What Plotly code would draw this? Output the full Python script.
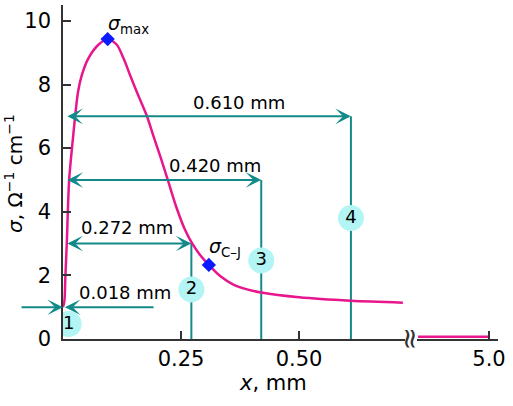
import plotly.graph_objects as go

# ---- data ----
curve_x = [0.000, 0.003, 0.005, 0.008, 0.013, 0.021, 0.026, 0.032, 0.040, 0.054, 0.075,
           0.0946, 0.114, 0.128, 0.142, 0.156, 0.177, 0.191, 0.207, 0.222, 0.240, 0.258,
           0.273, 0.290, 0.309, 0.333, 0.360, 0.390, 0.420, 0.500, 0.610, 0.720]
curve_y = [1.00, 1.20, 1.95, 3.00, 5.00, 6.30, 7.04, 7.78, 8.30, 8.83, 9.25,
           9.43, 9.25, 8.83, 8.30, 7.78, 7.04, 6.41, 5.70, 5.00, 4.15, 3.45,
           3.02, 2.65, 2.33, 1.98, 1.72, 1.56, 1.46, 1.31, 1.20, 1.14]
far_x = [4.0, 5.0]
far_y = [0.07, 0.07]

marker_x = [0.0946, 0.309]
marker_y = [9.43, 2.33]
marker_labels = ["<i>σ</i><sub>max</sub>", "<i>σ</i><sub>C–J</sub>"]

dist_values = [0.018, 0.272, 0.420, 0.610]
dist_labels = ["0.018 mm", "0.272 mm", "0.420 mm", "0.610 mm"]
arrow_y = [1, 3, 5, 7]
label_x = [0.131, 0.135, 0.322, 0.373]
label_y = [1.45, 3.52, 5.47, 7.42]

circle_labels = ["1", "2", "3", "4"]
circle_x = [0.012, 0.272, 0.420, 0.610]
circle_y = [0.47, 1.56, 2.47, 3.80]

y_ticks = [0, 2, 4, 6, 8, 10]
x_ticks = [0.25, 0.50]
x_ticktext = ["0.25", "0.50"]
x2_ticks = [4.0, 5.0]
x2_ticktext = ["", "5.0"]

# ---- style ----
FONT = "DejaVu Sans"
TEAL = "#138a8a"
PINK = "#e8168c"
CYAN = "#b3f4f4"
BLUE = "#0a1cff"
AXIS = "#333333"

L, R, T, B = 63, 15, 5, 67
W, H = 513, 406
PW, PH = W - L - R, H - T - B


def px2paper(px, py):
    return (px - L) / PW, (H - B - py) / PH


fig = go.Figure()

# vertical lines from axis to arrow level
vx, vy = [], []
for d, a in zip(dist_values[1:], arrow_y[1:]):
    vx += [d, d, None]
    vy += [0, a, None]
fig.add_trace(go.Scatter(x=vx, y=vy, mode="lines",
                         line=dict(color=TEAL, width=2), hoverinfo="skip"))

# main curve
fig.add_trace(go.Scatter(x=curve_x, y=curve_y, mode="lines",
                         line=dict(color=PINK, width=2.5, shape="spline", smoothing=0.8)))
fig.add_trace(go.Scatter(x=far_x, y=far_y, xaxis="x2", mode="lines",
                         line=dict(color=PINK, width=2.5)))

# numbered circles
fig.add_trace(go.Scatter(x=circle_x, y=circle_y, mode="markers+text",
                         text=circle_labels, textposition="middle center",
                         textfont=dict(family=FONT, size=18, color="black"),
                         marker=dict(size=26, color=CYAN, line=dict(width=0))))

# diamonds
fig.add_trace(go.Scatter(x=marker_x, y=marker_y, mode="markers",
                         marker=dict(symbol="diamond", size=11, color=BLUE)))

ann = []
# horizontal double arrows
for d, a in zip(dist_values[1:], arrow_y[1:]):
    ann.append(dict(x=d, y=a, ax=0.006, ay=a, xref="x", yref="y", axref="x", ayref="y",
                    text="", showarrow=True, arrowside="end+start",
                    arrowhead=3, startarrowhead=3, arrowsize=1.3, startarrowsize=1.3,
                    arrowwidth=2, arrowcolor=TEAL))
# 0.018 mm arrows (pointing at the axis from both sides)
ann.append(dict(x=0.0, y=arrow_y[0], ax=-0.091, ay=arrow_y[0], xref="x", yref="y",
                axref="x", ayref="y", text="", showarrow=True, arrowhead=3,
                arrowsize=1.3, arrowwidth=2, arrowcolor=TEAL))
ann.append(dict(x=0.004, y=arrow_y[0], ax=0.195, ay=arrow_y[0], xref="x", yref="y",
                axref="x", ayref="y", text="", showarrow=True, arrowhead=3,
                arrowsize=1.3, arrowwidth=2, arrowcolor=TEAL))
# distance labels
for lx, ly, t in zip(label_x, label_y, dist_labels):
    ann.append(dict(x=lx, y=ly, xref="x", yref="y", text=t, showarrow=False,
                    font=dict(family=FONT, size=18, color="black")))
# sigma labels
ann.append(dict(x=marker_x[0], y=marker_y[0], xref="x", yref="y", text=marker_labels[0],
                showarrow=False, xanchor="left", yanchor="bottom", yshift=0, xshift=-2,
                font=dict(family=FONT, size=19, color="black")))
ann.append(dict(x=marker_x[1], y=marker_y[1], xref="x", yref="y", text=marker_labels[1],
                showarrow=False, xanchor="left", yanchor="bottom", yshift=3, xshift=-2,
                font=dict(family=FONT, size=19, color="black")))
# axis titles
tx, ty = px2paper(14, 174)
ann.append(dict(x=tx, y=ty, xref="paper", yref="paper", text="<i>σ</i>, Ω<sup>−1</sup> cm<sup>−1</sup>",
                textangle=-90, showarrow=False, xanchor="center", yanchor="middle",
                font=dict(family=FONT, size=20, color="black")))
tx, ty = px2paper(273, 383)
ann.append(dict(x=tx, y=ty, xref="paper", yref="paper", text="<i>x</i>, mm",
                showarrow=False, xanchor="center", yanchor="middle",
                font=dict(family=FONT, size=21, color="black")))
# axis break symbol
tx, ty = px2paper(411, 338)
ann.append(dict(x=tx, y=ty, xref="paper", yref="paper", text="≈", textangle=90,
                showarrow=False, xanchor="center", yanchor="middle",
                font=dict(family=FONT, size=28, color=AXIS)))

x1_end = (405 - L) / PW
x2_start = (417 - L) / PW

axis_common = dict(showgrid=False, zeroline=False, showline=True, linecolor=AXIS,
                   linewidth=1.5, ticks="inside", ticklen=8, tickcolor=AXIS, tickwidth=1.5,
                   tickfont=dict(family=FONT, size=21, color="black"))

fig.update_layout(
    width=W, height=H, margin=dict(l=L, r=R, t=T, b=B),
    paper_bgcolor="white", plot_bgcolor="white", showlegend=False,
    xaxis=dict(domain=[0, x1_end], range=[0, (405 - L) / 472], tickvals=x_ticks,
               ticktext=x_ticktext, anchor="y", **axis_common),
    xaxis2=dict(domain=[x2_start, 1], range=[4.0 - 1 / 71, 4.0 + 80 / 71], tickvals=x2_ticks,
                ticktext=x2_ticktext, anchor="y", **axis_common),
    yaxis=dict(range=[0, 10.5], tickvals=y_ticks, ticklabelstandoff=6, **axis_common),
    annotations=ann,
)

fig.write_html("out.html", config={"displayModeBar": False},
               post_script="document.body.style.margin='0';")
